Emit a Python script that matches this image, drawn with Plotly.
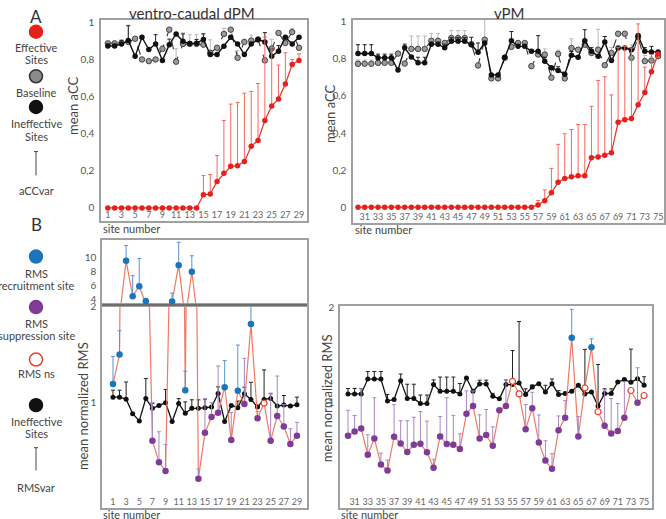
import plotly.graph_objects as go

W, H = 666, 519

# ---------------- A: mean aCC ----------------
sites_dpm = list(range(1, 30))
sites_vpm = list(range(30, 76))
ticks_dpm = list(range(1, 30, 2))
ticks_vpm = list(range(31, 76, 2))

acc_ticks = [0, 0.2, 0.4, 0.6, 0.8, 1]
acc_ticktext = ["0", "0,2", "0,4", "0,6", "0,8", "1"]

# ventro-caudal dPM
eff_dpm = [0, 0, 0, 0, 0, 0, 0, 0, 0, 0, 0, 0, 0, 0,
           0.071, 0.075, 0.143, 0.187, 0.225, 0.228, 0.251, 0.333, 0.365,
           0.472, 0.551, 0.588, 0.670, 0.775, 0.797]
eff_dpm_err = [0, 0, 0, 0, 0, 0, 0, 0, 0, 0, 0, 0, 0, 0,
               0.104, 0.105, 0.140, 0.285, 0.336, 0.342, 0.369, 0.296, 0.307,
               0.451, 0.314, 0.184, 0.168, 0.027, 0.035]
base_dpm = [0.889, 0.889, 0.891, 0.897, 0.914, 0.802, 0.793, 0.802, 0.859, 0.963,
            0.790, 0.886, 0.886, 0.886, 0.882, 0.838, 0.865, 0.940, 0.963, 0.811,
            0.897, 0.904, 0.910, 0.797, 0.861, 0.945, 0.891, 0.950, 0.865]
base_dpm_err = [0, 0, 0.01, 0.09, 0, 0, 0, 0, 0.02, 0, 0.07, 0.06, 0.05, 0.05, 0.06,
                0.07, 0, 0.03, 0, 0.04, 0, 0.03, 0, 0, 0.05, 0, 0.03, 0.02, 0]
ineff_dpm = [0.875, 0.875, 0.886, 0.904, 0.820, 0.922, 0.856, 0.886, 0.797, 0.882,
             0.940, 0.900, 0.888, 0.890, 0.910, 0.829, 0.829, 0.873, 0.922, 0.886,
             0.829, 0.886, 0.910, 0.897, 0.820, 0.847, 0.922, 0.886, 0.922]
ineff_dpm_err = [0.01, 0.01, 0.02, 0.08, 0, 0, 0, 0.05, 0, 0.03, 0, 0.04, 0, 0.02, 0.03,
                 0, 0, 0, 0, 0, 0, 0, 0, 0.05, 0.04, 0.03, 0, 0, 0]

# vPM
eff_vpm = [0, 0, 0, 0, 0, 0, 0, 0, 0, 0, 0, 0, 0, 0, 0, 0, 0, 0, 0, 0, 0, 0, 0, 0, 0, 0, 0,
           0.012, 0.034, 0.078, 0.134, 0.155, 0.164, 0.169, 0.169, 0.267, 0.271,
           0.280, 0.294, 0.458, 0.472, 0.478, 0.553, 0.619, 0.731, 0.827]
eff_vpm_err = [0, 0, 0, 0, 0, 0, 0, 0, 0, 0, 0, 0, 0, 0, 0, 0, 0, 0, 0, 0, 0, 0, 0, 0, 0, 0, 0,
               0.024, 0.059, 0.131, 0.205, 0.241, 0.255, 0.277, 0.277, 0.277, 0.413,
               0.424, 0.312, 0.405, 0.396, 0.381, 0.436, 0.137, 0.093, 0]
base_vpm = [0.774, 0.774, 0.774, 0.779, 0.779, 0.779, 0.829, 0.775, 0.854, 0.854,
            0.854, 0.898, 0.898, 0.886, 0.913, 0.913, 0.913, 0.880, 0.765, 0.904,
            0.695, 0.695, 0.806, 0.865, 0.886, 0.886, 0.761, 0.824, 0.824, 0.699,
            0.827, 0.695, 0.859, 0.850, 0.877, 0.832, 0.850, 0.766, 0.832, 0.936,
            0.936, 0.806, 0.918, 0.788, 0.791, 0.815]
base_vpm_err = [0.02, 0.02, 0.02, 0, 0, 0, 0, 0, 0.07, 0.07, 0.07, 0.04, 0.04, 0.01,
                0.04, 0.04, 0.04, 0, 0, 0.12, 0, 0, 0, 0, 0, 0, 0, 0, 0.03, 0.06,
                0.02, 0.03, 0.05, 0, 0, 0, 0.11, 0, 0.03, 0, 0, 0.07, 0, 0.03, 0.02, 0]
ineff_vpm = [0.829, 0.829, 0.829, 0.806, 0.806, 0.806, 0.740, 0.860, 0.811, 0.779,
             0.779, 0.880, 0.880, 0.860, 0.895, 0.895, 0.895, 0.877, 0.836, 0.886,
             0.713, 0.713, 0.809, 0.898, 0.868, 0.868, 0.841, 0.841, 0.788, 0.752,
             0.738, 0.717, 0.820, 0.809, 0.898, 0.841, 0.815, 0.891, 0.791, 0.859,
             0.859, 0.850, 0.927, 0.841, 0.838, 0.838]
ineff_vpm_err = [0.048, 0.048, 0.048, 0.02, 0.02, 0.02, 0, 0.02, 0, 0.03, 0.03, 0.01,
                 0.01, 0.02, 0.02, 0.02, 0.02, 0.04, 0.05, 0, 0, 0, 0, 0.05, 0, 0,
                 0.01, 0.085, 0.02, 0, 0.02, 0, 0.02, 0, 0.06, 0.02, 0, 0.03, 0, 0,
                 0, 0, 0, 0.02, 0.03, 0]

# ---------------- B: mean normalized RMS ----------------
rms_ticks_low = [0, 1, 2]
rms_ticks_high = [4, 6, 8, 10]

rms_dpm = [1.19, 1.50, 9.53, 4.43, 5.86, 3.71, 0.594, 0.368, 0.274, 3.67, 8.90, 1.125,
           7.95, 0.195, 0.677, 0.844, 0.889, 1.156, 0.60, 1.12, 0.98, 1.82, 0.83, 0.99,
           0.594, 0.854, 0.743, 0.559, 0.646]
rms_dpm_err = [0.29, 0.25, 2.2, 2.95, 4.0, 0.4, 0.40, 0.32, 0.28, 1.2, 3.3, 0.2, 2.3,
               0.10, 0.36, 0.15, 0.49, 0.28, 0.29, 0.48, 0.48, 0.27, 0.07, 0, 0.5,
               0.42, 0.23, 0.16, 0.14]
rms_dpm_kind = ["rec", "rec", "rec", "rec", "rec", "rec", "sup", "sup", "sup", "rec",
                "rec", "rec", "rec", "sup", "sup", "sup", "sup", "rec", "sup", "rec",
                "sup", "rec", "sup", "ns", "sup", "sup", "sup", "sup", "sup"]
rms_ineff_dpm = [1.052, 1.052, 1.031, 0.878, 0.802, 1.038, 0.934, 0.965, 0.993, 0.795,
                 0.986, 0.882, 0.934, 0.934, 0.941, 0.948, 1.090, 0.795, 0.965, 0.941,
                 1.087, 1.028, 0.948, 1.028, 1.038, 0.958, 0.969, 0.958, 0.972]
rms_ineff_dpm_err = [0.073, 0.073, 0.18, 0, 0, 0.21, 0.05, 0, 0.14, 0, 0.05, 0.12, 0.09,
                     0.09, 0.09, 0, 0.07, 0, 0, 0.07, 0.07, 0.18, 0, 0.31, 0.05, 0,
                     0.10, 0, 0.08]

rms_vpm = [0.649, 0.694, 0.726, 0.450, 0.621, 0.346, 0.283, 0.639, 0.569, 0.478,
           0.555, 0.565, 0.474, 0.311, 0.642, 0.562, 0.555, 0.510, 0.883, 0.963,
           0.621, 0.657, 0.544, 0.918, 0.963, 1.225, 1.092, 0.719, 0.939, 0.579,
           0.387, 0.300, 0.709, 0.841, 1.686, 0.642, 1.155, 1.584, 0.904, 0.754,
           0.673, 0.700, 0.841, 1.128, 0.998, 1.075]
rms_vpm_err = [0.27, 0.17, 0.42, 0.21, 0.43, 0.12, 0.11, 0.34, 0.24, 0.33, 0.29, 0.34,
               0.33, 0.09, 0.21, 0.49, 0.31, 0.16, 0.24, 0.16, 0.25, 0.27, 0.20, 0,
               0.28, 0, 0, 0.26, 0.17, 0.29, 0.21, 0.16, 0.15, 0.18, 0.30, 0.21, 0,
               0.09, 0, 0.38, 0.37, 0.29, 0.38, 0, 0.37, 0]
rms_vpm_kind = ["sup", "sup", "sup", "sup", "sup", "sup", "sup", "sup", "sup", "sup",
                "sup", "sup", "sup", "sup", "sup", "sup", "sup", "sup", "sup", "sup",
                "sup", "sup", "sup", "sup", "sup", "ns", "ns", "sup", "sup", "sup",
                "sup", "sup", "sup", "sup", "rec", "sup", "ns", "rec", "ns", "sup",
                "sup", "sup", "sup", "ns", "sup", "ns"]
rms_ineff_vpm = [1.092, 1.092, 1.092, 1.249, 1.249, 1.249, 1.016, 1.033, 1.232, 1.044,
                 1.044, 0.990, 0.990, 1.190, 1.120, 1.120, 1.120, 1.092, 1.260, 1.120,
                 1.197, 1.197, 1.068, 1.040, 1.190, 1.190, 1.207, 1.086, 1.166, 1.200,
                 1.113, 1.200, 1.086, 1.096, 1.120, 1.183, 1.092, 1.113, 0.963, 1.096,
                 1.096, 1.218, 1.243, 1.215, 1.253, 1.183]
rms_ineff_vpm_err = [0.057, 0.057, 0.057, 0.08, 0.08, 0.08, 0.07, 0, 0.07, 0.15, 0.15,
                     0.09, 0.09, 0.05, 0.15, 0.15, 0.15, 0.11, 0, 0, 0.04, 0.04, 0.03,
                     0, 0.05, 0.36, 0.65, 0.06, 0.02, 0, 0.07, 0.05, 0.04, 0, 0, 0,
                     0.47, 0, 0.44, 0.05, 0.05, 0, 0, 0.35, 0, 0.09]

FONT = "Lato"
RED, GRAY, BLACK = "#e8201c", "#9a9a9a", "#111111"
BLUE, PURPLE, SALMON = "#1b75bb", "#7d3c98", "#f07a63"


def px(x):
    return x / W


def py(y):
    return 1 - y / H


def err(vals, color, width=2):
    return dict(type="data", array=vals, arrayminus=[0] * len(vals), symmetric=False,
                color=color, thickness=1, width=width)


def pick(x, y, e, kinds, k):
    xs = [a for a, c in zip(x, kinds) if c == k]
    ys = [a for a, c in zip(y, kinds) if c == k]
    es = [a for a, c in zip(e, kinds) if c == k]
    return xs, ys, es


fig = go.Figure()

# --- panel A traces ---
for sites, base, base_e, ineff, ineff_e, eff, eff_e, xa, ya in [
        (sites_dpm, base_dpm, base_dpm_err, ineff_dpm, ineff_dpm_err, eff_dpm, eff_dpm_err, "x", "y"),
        (sites_vpm, base_vpm, base_vpm_err, ineff_vpm, ineff_vpm_err, eff_vpm, eff_vpm_err, "x2", "y2")]:
    fig.add_trace(go.Scatter(x=sites, y=base, mode="lines+markers", xaxis=xa, yaxis=ya,
                             line=dict(color="#333", width=1.1, dash="dash"),
                             marker=dict(color=GRAY, size=5.5, line=dict(color="#444", width=1)),
                             error_y=err(base_e, "#b8b8b8")))
    fig.add_trace(go.Scatter(x=sites, y=ineff, mode="lines+markers", xaxis=xa, yaxis=ya,
                             line=dict(color=BLACK, width=1.4),
                             marker=dict(color=BLACK, size=5.5),
                             error_y=err(ineff_e, "#222")))
    fig.add_trace(go.Scatter(x=sites, y=eff, mode="lines+markers", xaxis=xa, yaxis=ya,
                             line=dict(color="#e8302a", width=1.2),
                             marker=dict(color=RED, size=5.5),
                             error_y=err(eff_e, "#ef6b5e")))

# --- panel B traces ---
panels_b = [
    (sites_dpm, rms_dpm, rms_dpm_err, rms_dpm_kind, rms_ineff_dpm, rms_ineff_dpm_err,
     [("x3", "y3"), ("x4", "y4")]),
    (sites_vpm, rms_vpm, rms_vpm_err, rms_vpm_kind, rms_ineff_vpm, rms_ineff_vpm_err,
     [("x5", "y5")]),
]
for sites, rms, rms_e, kinds, ineff, ineff_e, axes in panels_b:
    low_x, low_y = axes[0]
    fig.add_trace(go.Scatter(x=sites, y=ineff, mode="lines+markers", xaxis=low_x, yaxis=low_y,
                             line=dict(color=BLACK, width=1.3),
                             marker=dict(color=BLACK, size=5),
                             error_y=err(ineff_e, "#222")))
    for xa, ya in axes:
        fig.add_trace(go.Scatter(x=sites, y=rms, mode="lines", xaxis=xa, yaxis=ya,
                                 line=dict(color=SALMON, width=1.2)))
        xs, ys, es = pick(sites, rms, rms_e, kinds, "rec")
        fig.add_trace(go.Scatter(x=xs, y=ys, mode="markers", xaxis=xa, yaxis=ya,
                                 marker=dict(color=BLUE, size=6.5),
                                 error_y=err(es, "#5b93cf")))
    xs, ys, es = pick(sites, rms, rms_e, kinds, "sup")
    fig.add_trace(go.Scatter(x=xs, y=ys, mode="markers", xaxis=low_x, yaxis=low_y,
                             marker=dict(color=PURPLE, size=6.5),
                             error_y=err(es, "#a886c4")))
    xs, ys, es = pick(sites, rms, rms_e, kinds, "ns")
    fig.add_trace(go.Scatter(x=xs, y=ys, mode="markers", xaxis=low_x, yaxis=low_y,
                             marker=dict(color="white", size=6,
                                         line=dict(color="#e8402a", width=1.2))))

# --- axes ---
FRAME = dict(showline=True, mirror=True, linecolor="#a0a0a0", linewidth=1.5,
             showgrid=False, zeroline=False, fixedrange=True)
XT = dict(ticklabelposition="inside", ticks="", tickmode="array",
          tickfont=dict(family=FONT, size=9, color="#666"))
YT = dict(ticks="outside", tickcolor="rgba(0,0,0,0)", tickmode="array",
          tickfont=dict(family=FONT, size=10, color="#555"))

rms_low_text = [str(t) for t in rms_ticks_low]
rms_high_text = [str(t) for t in rms_ticks_high]

fig.update_layout(
    xaxis=dict(FRAME, **XT, domain=[px(101), px(307)], range=[0.0, 30.17],
               tickvals=ticks_dpm, anchor="y"),
    yaxis=dict(FRAME, **YT, domain=[py(218), py(15)], range=[-0.07, 1.016],
               tickvals=acc_ticks, ticktext=acc_ticktext, ticklen=3, anchor="x"),
    xaxis2=dict(FRAME, **XT, domain=[px(353), px(664)], range=[29.25, 75.88],
                tickvals=ticks_vpm, anchor="y2"),
    yaxis2=dict(FRAME, **YT, domain=[py(220), py(15)], range=[-0.085, 1.011],
                tickvals=acc_ticks, ticktext=acc_ticktext, ticklen=3, anchor="x2"),
    xaxis3=dict(FRAME, **XT, domain=[px(102), px(307)], range=[-0.67, 30.53],
                tickvals=ticks_dpm, anchor="y3"),
    yaxis3=dict(FRAME, **YT, domain=[py(508), py(303)], range=[-0.115, 2.02],
                tickvals=rms_ticks_low, ticktext=rms_low_text, ticklen=2, anchor="x3"),
    xaxis4=dict(FRAME, domain=[px(102), px(307)], range=[-0.67, 30.53],
                showticklabels=False, anchor="y4"),
    yaxis4=dict(FRAME, **YT, domain=[py(303), py(237)], range=[3.14, 12.57],
                tickvals=rms_ticks_high, ticktext=rms_high_text, ticklen=2, anchor="x4"),
    xaxis5=dict(FRAME, **XT, domain=[px(340), px(652)], range=[28.78, 76.2],
                tickvals=ticks_vpm, anchor="y5"),
    yaxis5=dict(FRAME, **YT, domain=[py(508), py(304)], range=[-0.115, 2.02],
                tickvals=rms_ticks_low, ticktext=rms_low_text, ticklen=2, anchor="x5"),
)

# --- text ---
ann = []


def text(x, y, s, size=11, color="#444", angle=0, xanchor="center"):
    ann.append(dict(x=px(x), y=py(y), xref="paper", yref="paper", text=s, showarrow=False,
                    xanchor=xanchor, yanchor="middle", textangle=angle,
                    font=dict(family=FONT, size=size, color=color)))


text(192, 8, "ventro-caudal dPM", size=15, color="#333")
text(509, 8, "vPM", size=15, color="#333")
text(73, 102, "mean aCC", size=13, color="#444", angle=-90)
text(330, 110, "mean aCC", size=13, color="#444", angle=-90)
text(83, 405, "mean normalized RMS", size=13, color="#444", angle=-90)
text(327, 397, "mean normalized RMS", size=13, color="#444", angle=-90)
for x0, y0 in [(101, 226), (353, 227), (101, 514), (339, 514)]:
    text(x0, y0, "site number", size=11, color="#444", xanchor="left")

text(36, 12, "A", size=17, color="#333")
text(36, 222, "B", size=17, color="#333")
for y0, s in [(43, "Effective"), (55, "Sites"), (88, "Baseline"), (120, "Ineffective"),
              (133, "Sites"), (187, "aCCvar"), (271, "RMS"), (283, "recruitment site"),
              (322, "RMS"), (334, "suppression site"), (372, "RMS ns"), (421, "Ineffective"),
              (433, "Sites"), (487, "RMSvar")]:
    text(36, y0, s, size=11)

# --- legend symbols & axis break ---
shapes = []
for yc, fill, line in [(27, RED, RED), (72, "#8a8a8a", "#333"), (103, BLACK, BLACK),
                       (254, BLUE, BLUE), (305, PURPLE, PURPLE), (358, "white", "#e8402a"),
                       (404, BLACK, BLACK)]:
    shapes.append(dict(type="circle", xref="paper", yref="paper",
                       x0=px(29.5), x1=px(42.5), y0=py(yc + 6.5), y1=py(yc - 6.5),
                       fillcolor=fill, line=dict(color=line, width=1.5)))
for top, bot in [(148, 172), (447, 470)]:
    shapes.append(dict(type="line", xref="paper", yref="paper", x0=px(36), x1=px(36),
                       y0=py(top), y1=py(bot), line=dict(color="#444", width=1)))
    shapes.append(dict(type="line", xref="paper", yref="paper", x0=px(34), x1=px(38),
                       y0=py(top), y1=py(top), line=dict(color="#444", width=1)))
shapes.append(dict(type="line", xref="paper", yref="paper", x0=px(102), x1=px(307),
                   y0=py(303), y1=py(303), line=dict(color="#6e6e6e", width=2)))

fig.update_layout(width=W, height=H, margin=dict(l=0, r=0, t=0, b=0),
                  paper_bgcolor="white", plot_bgcolor="white", showlegend=False,
                  annotations=ann, shapes=shapes, font=dict(family=FONT))

fig.write_html("out.html", config={"displayModeBar": False},
               post_script="document.body.style.margin='0';"
                           "document.body.style.overflow='hidden';")
